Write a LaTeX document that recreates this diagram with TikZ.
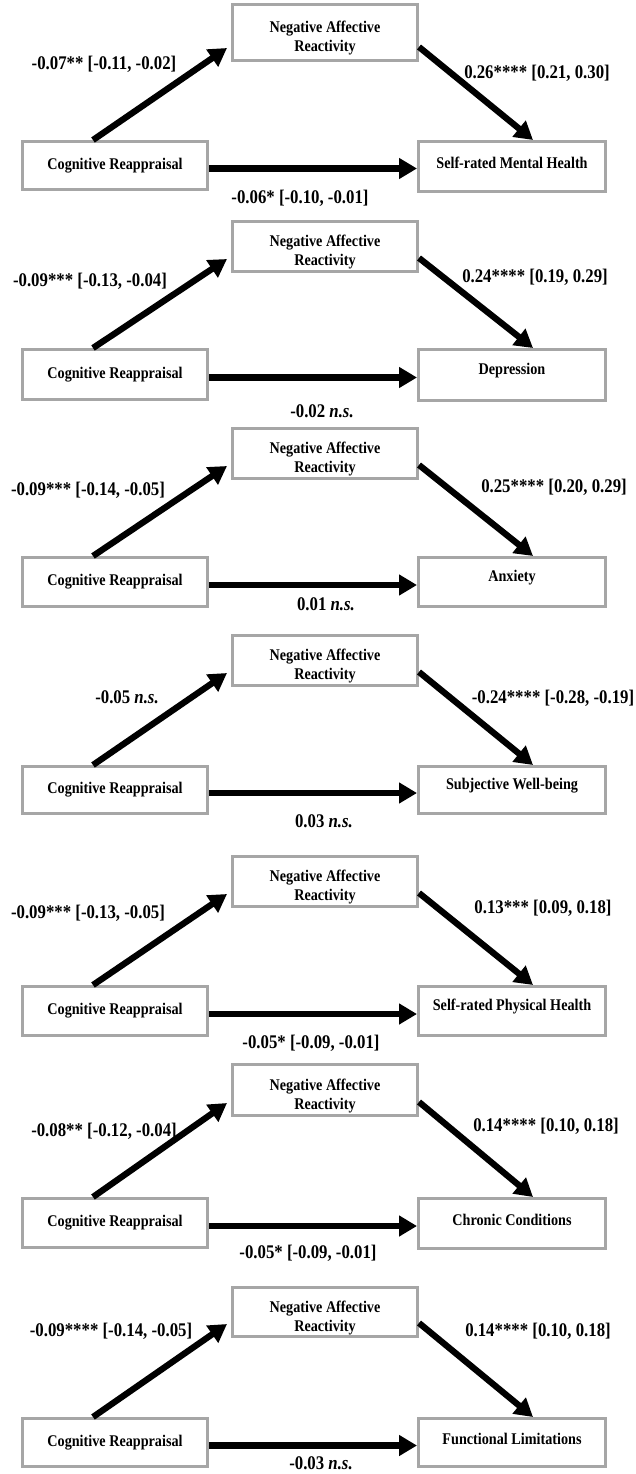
\documentclass[tikz,border=0pt]{standalone}
\usepackage{fontspec}
\setmainfont{Liberation Serif}[FakeStretch=0.87]
\usetikzlibrary{arrows.meta,calc}
\definecolor{boxgray}{RGB}{166,166,166}
\tikzset{
  box/.style={draw=boxgray, line width=3pt, fill=white, inner sep=0pt},
  txt/.style={font=\fontsize{16.3}{19}\selectfont\bfseries, align=center, inner sep=0pt},
  lab/.style={font=\fontsize{19.3}{21}\selectfont\bfseries, inner sep=0pt},
  arr/.style={line width=6.3pt, -{Triangle[length=18pt,width=20pt]}},
}
\newcommand\bx[5]{\node[box, minimum width={#4pt-#2pt-3pt}, minimum height={#5pt-#3pt-3pt}] (#1) at ({(#2+#4)/2},{(#3+#5)/2}) {};}
\newcommand\mpanel[7]{%
  \bx{nar#1}{231}{#2}{419}{#3}
  \bx{cog#1}{21}{#4}{209}{#5}
  \bx{out#1}{417}{#4}{607}{#6}
  \node[txt, yshift=-6pt] (nart#1) at (nar#1.center) {Negative Affective\\Reactivity};
  \node[txt] (cogt#1) at (cog#1.center) {Cognitive Reappraisal};
  \node[txt, yshift=4pt] (outt#1) at (out#1.center) {#7};
  \draw[arr] ([xshift=72pt]cog#1.north west) -- ([xshift=-4pt,yshift=14pt]nar#1.south west);
  \draw[arr] ([xshift=0pt,yshift=15pt]nar#1.south east) -- ([xshift=116pt]out#1.north west);
  \draw[arr] ([yshift=-3pt]cog#1.east) -- ([yshift=-3pt]cog#1.east -| out#1.west);
}
\begin{document}
\begin{tikzpicture}[x=1pt,y=-1pt]
\fill[white] (0,0) rectangle (635,1474);
\useasboundingbox (0,0) rectangle (635,1474);
% Panel 1
\mpanel{1}{3}{62}{140}{191}{193}{Self-rated Mental Health}
\node[lab] (la1) at (104,64) {-0.07** [-0.11, -0.02]};
\node[lab] (ra1) at (537,73) {0.26**** [0.21, 0.30]};
\node[lab] (ba1) at (300,198) {-0.06* [-0.10, -0.01]};
% Panel 2
\mpanel{2}{220}{273}{348}{401}{402}{Depression}
\node[lab] (la2) at (90,281) {-0.09*** [-0.13, -0.04]};
\node[lab] (ra2) at (535,277) {0.24**** [0.19, 0.29]};
\node[lab] (ba2) at (322,411) {-0.02 \textit{n.s.}};
% Panel 3
\mpanel{3}{427}{480}{556}{608}{608}{Anxiety}
\node[lab] (la3) at (88,490) {-0.09*** [-0.14, -0.05]};
\node[lab] (ra3) at (554,487) {0.25**** [0.20, 0.29]};
\node[lab] (ba3) at (326,604) {0.01 \textit{n.s.}};
% Panel 4
\mpanel{4}{634}{687}{765}{815}{815}{Subjective Well-being}
\node[lab] (la4) at (127,697) {-0.05 \textit{n.s.}};
\node[lab] (ra4) at (553,698) {-0.24**** [-0.28, -0.19]};
\node[lab] (ba4) at (324,821) {0.03 \textit{n.s.}};
% Panel 5
\mpanel{5}{855}{908}{985}{1037}{1037}{Self-rated Physical Health}
\node[lab] (la5) at (88,913) {-0.09*** [-0.13, -0.05]};
\node[lab] (ra5) at (543,908) {0.13*** [0.09, 0.18]};
\node[lab] (ba5) at (311,1043) {-0.05* [-0.09, -0.01]};
% Panel 6
\mpanel{6}{1063}{1117}{1197}{1249}{1250}{Chronic Conditions}
\node[lab] (la6) at (104,1131) {-0.08** [-0.12, -0.04]};
\node[lab] (ra6) at (546,1126) {0.14**** [0.10, 0.18]};
\node[lab] (ba6) at (308,1253) {-0.05* [-0.09, -0.01]};
% Panel 7
\mpanel{7}{1286}{1338}{1417}{1468}{1468}{Functional Limitations}
\node[lab] (la7) at (111,1331) {-0.09**** [-0.14, -0.05]};
\node[lab] (ra7) at (538,1331) {0.14**** [0.10, 0.18]};
\node[lab] (ba7) at (321,1463) {-0.03 \textit{n.s.}};
\end{tikzpicture}
\end{document}
